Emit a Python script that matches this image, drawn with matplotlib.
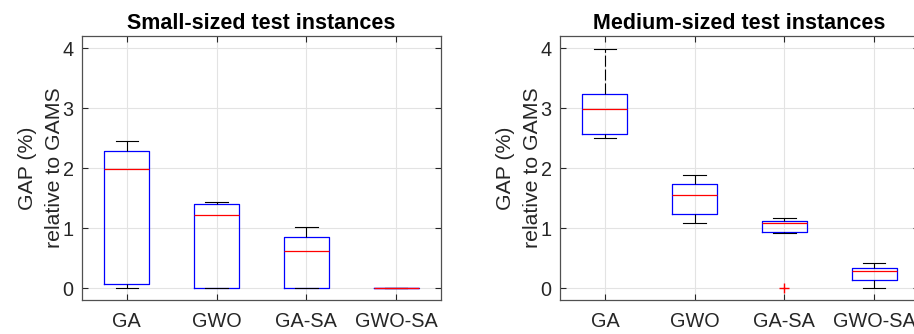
import matplotlib.pyplot as plt

plt.rcParams["font.family"] = ["Liberation Sans", "DejaVu Sans"]

methods = ["GA", "GWO", "GA-SA", "GWO-SA"]

# box statistics: low whisker, q1, median, q3, high whisker
small_lo = [0.0, 0.0, 0.0, 0.0]
small_q1 = [0.07, 0.0, 0.0, 0.0]
small_med = [1.99, 1.21, 0.61, 0.0]
small_q3 = [2.29, 1.40, 0.85, 0.0]
small_hi = [2.45, 1.43, 1.01, 0.0]
small_out = [[], [], [], []]

medium_lo = [2.50, 1.09, 0.92, 0.0]
medium_q1 = [2.56, 1.24, 0.94, 0.14]
medium_med = [2.98, 1.55, 1.08, 0.29]
medium_q3 = [3.23, 1.74, 1.11, 0.33]
medium_hi = [3.98, 1.88, 1.16, 0.41]
medium_out = [[], [], [0.0], []]

TXT = "#262626"


def make_stats(lo, q1, med, q3, hi, out):
    stats = []
    for i in range(len(methods)):
        stats.append({"whislo": lo[i], "q1": q1[i], "med": med[i], "q3": q3[i],
                      "whishi": hi[i], "fliers": out[i], "label": methods[i]})
    return stats


def draw_panel(ax, stats, title):
    ax.bxp(stats, widths=0.5, showfliers=True,
           boxprops=dict(color="blue", lw=0.9),
           medianprops=dict(color="red", lw=0.9),
           whiskerprops=dict(color="black", lw=0.8, linestyle=(0, (10, 2.5))),
           capprops=dict(color="black", lw=0.8),
           flierprops=dict(marker="+", markeredgecolor="red", markersize=7, linestyle="none"),
           capwidths=0.25)
    ax.set_xlim(0.5, 4.5)
    ax.set_ylim(-0.2, 4.2)
    ax.set_yticks([0, 1, 2, 3, 4])
    ax.grid(True, color="#e3e3e3", lw=0.8)
    ax.set_axisbelow(True)
    ax.tick_params(direction="in", top=True, right=True, length=4, width=0.8,
                   colors=TXT, labelsize=14.3)
    ax.tick_params(axis="x", pad=9)
    ax.tick_params(axis="y", pad=6)
    for s in ax.spines.values():
        s.set_color("#505050")
        s.set_linewidth(0.9)
    ax.set_title(title, fontsize=15.5, fontweight="bold", color="black", pad=5)
    ax.set_ylabel("GAP (%)\nrelative to GAMS", fontsize=15.3, color=TXT,
                  linespacing=1.5, labelpad=-1)


fig = plt.figure(figsize=(9.14, 3.34), dpi=100)
ax1 = fig.add_axes([0.0897, 0.1018, 0.3928, 0.790])
ax2 = fig.add_axes([0.6127, 0.1018, 0.3928, 0.790])

draw_panel(ax1, make_stats(small_lo, small_q1, small_med, small_q3, small_hi, small_out),
           "Small-sized test instances")
draw_panel(ax2, make_stats(medium_lo, medium_q1, medium_med, medium_q3, medium_hi, medium_out),
           "Medium-sized test instances")

fig.savefig("out.png", dpi=100)
